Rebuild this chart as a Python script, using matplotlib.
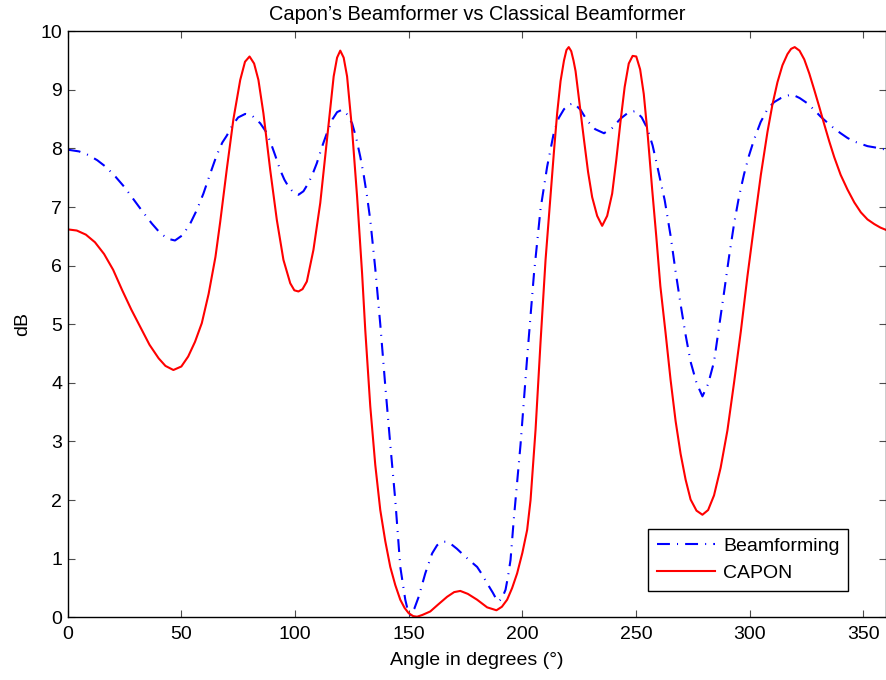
import matplotlib
matplotlib.use('Agg')
import matplotlib.pyplot as plt

plt.rcParams['font.family'] = ['Liberation Sans', 'DejaVu Sans']
plt.rcParams['font.size'] = 14

# Classical (delay-and-sum) beamformer response
beam_deg = [0, 5, 9, 13, 17, 21, 25, 29, 33, 37, 40.6, 44, 47.2, 50.5, 53.8, 56.8, 59.7,
            62.6, 65.5, 68, 70, 72.5, 75, 78.1, 81.4, 84.7, 87, 89.1, 91.3, 93.5, 95.3,
            97.1, 99.3, 101.5, 103.7, 105.9, 107.8, 109.6, 111.8, 114, 116.5, 118.5,
            120.6, 123, 125.1, 126.9, 128.7, 130.2, 131.7, 133.1, 135.3, 137.5, 139.7,
            141.9, 144.1, 146.3, 148.5, 149.6, 150.7, 152.5, 154.4, 157.3, 160.3, 162.5,
            164.7, 166.5, 168.3, 171.2, 174.2, 177.1, 180.1, 182.3, 184.5, 187, 188.4,
            189.6, 191.1, 192.6, 193.7, 194.8, 196.2, 197, 199.2, 202.1, 205.1, 208,
            210.9, 213.9, 216, 218.3, 220.5, 222.7, 225.6, 228.6, 232, 235.9, 239.5,
            243.2, 246.5, 249.8, 252.5, 255, 257.3, 259.4, 261, 262.6, 265.2, 267.4,
            269.6, 271.8, 274, 276.6, 279.2, 281.7, 284.3, 286.5, 288.7, 290.9, 293.1,
            295.3, 297.5, 299.7, 301.9, 304.8, 307.8, 310.7, 313.7, 316.2, 318.8, 322,
            325.4, 328.3, 331.3, 334.2, 337.2, 340, 343, 345.9, 348.9, 351.8, 354.8,
            357.5, 360]
beam_db = [7.98, 7.95, 7.89, 7.80, 7.68, 7.52, 7.34, 7.13, 6.92, 6.72, 6.56, 6.46, 6.43, 6.52,
           6.71, 6.95, 7.23, 7.56, 7.88, 8.10, 8.22, 8.40, 8.53, 8.59, 8.55, 8.43, 8.30,
           8.12, 7.88, 7.63, 7.47, 7.35, 7.25, 7.21, 7.27, 7.41, 7.57, 7.75, 8.02, 8.26,
           8.50, 8.62, 8.66, 8.58, 8.43, 8.18, 7.86, 7.55, 7.18, 6.78, 5.95, 5.00, 3.95,
           2.95, 2.00, 0.86, 0.30, 0.12, 0.04, 0.15, 0.35, 0.75, 1.09, 1.23, 1.29, 1.29,
           1.26, 1.17, 1.06, 0.96, 0.86, 0.73, 0.58, 0.42, 0.32, 0.27, 0.33, 0.47, 0.70,
           0.98, 1.66, 2.00, 2.95, 4.43, 5.86, 6.97, 7.69, 8.28, 8.52, 8.67, 8.75, 8.77,
           8.66, 8.47, 8.33, 8.26, 8.35, 8.51, 8.61, 8.64, 8.53, 8.34, 8.05, 7.69, 7.40,
           7.12, 6.51, 5.90, 5.34, 4.82, 4.36, 4.00, 3.77, 3.98, 4.36, 4.95, 5.54, 6.15,
           6.71, 7.18, 7.56, 7.88, 8.15, 8.45, 8.67, 8.79, 8.86, 8.90, 8.92, 8.86, 8.77,
           8.66, 8.54, 8.44, 8.34, 8.26, 8.18, 8.12, 8.08, 8.04, 8.02, 8.00, 7.98]

# Capon (MVDR) beamformer response
capon_deg = [0, 4, 8, 12, 16, 20, 24, 28, 32, 36, 40, 43, 46.5, 50, 53, 56, 59, 62, 65,
             67.1, 70, 72.9, 75.9, 78, 80, 82, 83.9, 86.1, 89.1, 92, 94.9, 97.9, 99.7,
             101.5, 103.3, 105.2, 108.1, 111.1, 114, 117, 118.5, 119.9, 121.4, 122.9,
             125.1, 127.3, 129.5, 130.9, 133.1, 135.3, 137.5, 139.7, 141.9, 144.1, 146.3,
             148.2, 150, 152, 153.7, 156, 159.5, 163, 166.9, 170, 172.7, 176, 180.1,
             184.5, 188.6, 191, 193.3, 195.5, 197.7, 200, 202.1, 203.6, 205.8, 208,
             210.2, 212.4, 214, 215.3, 216.8, 218.3, 219.4, 220.4, 221.5, 222.5, 223.4,
             225.2, 227.1, 228.9, 230.7, 232.9, 235.1, 237.3, 239.5, 241.3, 243.2, 245,
             246.8, 248.5, 250.1, 251.8, 253.4, 255.2, 257.1, 258.9, 260.7, 263, 265.2,
             267.4, 269.6, 271.8, 274, 276.6, 279.2, 281.7, 284.3, 287.2, 290.2, 293.1,
             296.1, 299, 302, 304.9, 307.8, 310, 312.2, 314.4, 316.6, 318.2, 319.8,
             321.9, 324, 326.2, 328.4, 330.6, 332.8, 335, 337.2, 340, 343, 346, 348.9,
             351.8, 354.8, 357.5, 360]
capon_db = [6.62, 6.60, 6.53, 6.40, 6.20, 5.93, 5.58, 5.25, 4.95, 4.65, 4.42, 4.29, 4.22, 4.28,
            4.45, 4.70, 5.02, 5.52, 6.15, 6.75, 7.65, 8.50, 9.17, 9.48, 9.57, 9.45, 9.17,
            8.60, 7.63, 6.78, 6.10, 5.70, 5.58, 5.56, 5.60, 5.73, 6.27, 7.07, 8.14, 9.23,
            9.55, 9.67, 9.55, 9.23, 8.32, 7.18, 5.87, 4.90, 3.60, 2.60, 1.83, 1.30, 0.86,
            0.55, 0.30, 0.16, 0.07, 0.02, 0.01, 0.04, 0.10, 0.22, 0.35, 0.43, 0.45, 0.40,
            0.30, 0.17, 0.12, 0.18, 0.30, 0.50, 0.75, 1.10, 1.49, 2.00, 3.20, 4.70, 6.10,
            7.20, 8.00, 8.60, 9.15, 9.50, 9.68, 9.73, 9.66, 9.50, 9.32, 8.75, 8.15, 7.60,
            7.17, 6.85, 6.68, 6.85, 7.23, 7.80, 8.47, 9.05, 9.45, 9.58, 9.57, 9.35, 8.93,
            8.20, 7.30, 6.50, 5.65, 4.85, 4.05, 3.35, 2.79, 2.35, 2.01, 1.82, 1.75, 1.83,
            2.08, 2.55, 3.19, 4.00, 4.88, 5.82, 6.71, 7.55, 8.28, 8.75, 9.13, 9.42, 9.61,
            9.70, 9.73, 9.67, 9.52, 9.28, 9.00, 8.71, 8.41, 8.12, 7.85, 7.55, 7.30, 7.08,
            6.91, 6.79, 6.71, 6.65, 6.61]

fig = plt.figure(figsize=(8.87, 6.8), dpi=100)
ax = fig.add_subplot(111)
fig.subplots_adjust(left=0.0763, right=0.999, bottom=0.0922, top=0.954)

ax.plot(beam_deg, beam_db, color='blue', lw=1.5, linestyle=(0, (6.2, 3.4, 0.5, 3.4)),
        label='Beamforming')
ax.plot(capon_deg, capon_db, color='red', lw=1.5, label='CAPON')

ax.set_xlim(0, 360)
ax.set_ylim(0, 10)
ax.set_xticks(range(0, 351, 50))
ax.set_yticks(range(0, 11))
ax.tick_params(direction='in', top=True, right=True, length=5, width=0.8,
               color='0.3', labelcolor='black')
ax.tick_params(axis='x', pad=6)
ax.tick_params(axis='y', pad=4)
for sp in ax.spines.values():
    sp.set_linewidth(1.0)

ax.set_title('Capon\u2019s Beamformer vs Classical Beamformer', fontsize=14.4, pad=8)
ax.set_xlabel('Angle in degrees (\u00b0)', labelpad=7)
ax.set_ylabel('dB', labelpad=7)

leg = ax.legend(loc='lower right', bbox_to_anchor=(0.9536, 0.0449), borderaxespad=0,
                fancybox=False, framealpha=1, edgecolor='black', handlelength=3,
                labelspacing=0.5, borderpad=0.45, handletextpad=0.4)
leg.get_frame().set_linewidth(1.0)

fig.savefig('out.png', dpi=100)
